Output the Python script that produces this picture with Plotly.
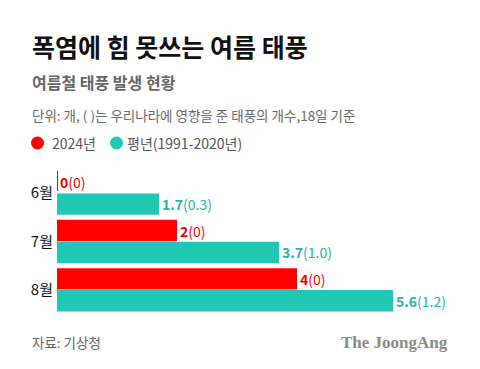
import plotly.graph_objects as go

months = ["6월", "7월", "8월"]
vals_2024 = [0, 2, 4]
affect_2024 = [0, 0, 0]
vals_normal = [1.7, 3.7, 5.6]
affect_normal = [0.3, 1.0, 1.2]

RED = "#ff0000"
TEAL = "#20c8b4"
TEAL_TXT = "#27b5a4"
FONT = "Noto Sans CJK KR"

W, H = 480, 369
L, R, T, B = 57, 3, 169, 55
PW, PH = W - L - R, H - T - B


def px(x):
    return (x - L) / PW


def py(y):
    return (H - B - y) / PH


def fmt(v):
    return f"{v:g}" if float(v).is_integer() else f"{v:.1f}"


txt_2024 = [f"<b>{fmt(v)}</b>({fmt(a)})" for v, a in zip(vals_2024, affect_2024)]
txt_normal = [f"<b>{v:.1f}</b>({a:.1f})" for v, a in zip(vals_normal, affect_normal)]

fig = go.Figure()
fig.add_trace(go.Bar(
    y=months, x=vals_2024, orientation="h", name="2024년",
    marker=dict(color=RED, line=dict(width=0)),
    text=txt_2024, textposition="outside", cliponaxis=False,
    constraintext="none",
    textfont=dict(family=FONT, size=14, color="#f00000"),
    hoverinfo="skip",
))
fig.add_trace(go.Bar(
    y=months, x=vals_normal, orientation="h", name="평년(1991-2020년)",
    marker=dict(color=TEAL, line=dict(width=0)),
    text=txt_normal, textposition="outside", cliponaxis=False,
    constraintext="none",
    textfont=dict(family=FONT, size=14, color=TEAL_TXT),
    hoverinfo="skip",
))

# red 0 bar marker line (visible sliver)
fig.add_shape(type="line", xref="paper", yref="paper",
              x0=px(57.5), x1=px(57.5), y0=py(171), y1=py(191),
              line=dict(color=RED, width=1))

annotations = [
    dict(text="<b>폭염에 힘 못쓰는 여름 태풍</b>", x=px(30), y=py(46), font=dict(size=25, color="#111111", family=FONT)),
    dict(text="<b>여름철 태풍 발생 현황</b>", x=px(30), y=py(82), font=dict(size=16, color="#666666", family=FONT)),
    dict(text="단위: 개, ( )는 우리나라에 영향을 준 태풍의 개수,18일 기준", x=px(30), y=py(115), font=dict(size=13.5, color="#6a6a6a", family=FONT)),
    dict(text="2024년", x=px(50), y=py(143), font=dict(size=14, color="#555555", family=FONT)),
    dict(text="평년(1991-2020년)", x=px(125), y=py(143), font=dict(size=14, color="#555555", family=FONT)),
    dict(text="자료: 기상청", x=px(30), y=py(342), font=dict(size=13.5, color="#666666", family=FONT)),
]
for a in annotations:
    a.update(xref="paper", yref="paper", xanchor="left", yanchor="middle", showarrow=False)
fig.add_annotation(text="<b>The JoongAng</b>", xref="paper", yref="paper",
                   x=px(450), y=py(342), xanchor="right", yanchor="middle", showarrow=False,
                   font=dict(size=17, color="#8a8a8a", family="Liberation Serif"))
for a in annotations:
    fig.add_annotation(**a)

# legend dots
for cx, col in [(37.5, RED), (116.5, TEAL)]:
    r = 6.5
    fig.add_shape(type="circle", xref="paper", yref="paper",
                  x0=px(cx - r), x1=px(cx + r), y0=py(143 + r), y1=py(143 - r),
                  fillcolor=col, line=dict(width=0))

fig.update_layout(
    width=W, height=H,
    margin=dict(l=L, r=R, t=T, b=B, autoexpand=False),
    paper_bgcolor="white", plot_bgcolor="white",
    barmode="group", bargap=0.093, bargroupgap=0.02,
    showlegend=False,
    font=dict(family=FONT),
    xaxis=dict(range=[0, 7], visible=False, fixedrange=True),
    yaxis=dict(autorange="reversed", showgrid=False, zeroline=False, showline=False,
               ticks="", ticklabelstandoff=3, automargin=False, fixedrange=True,
               tickfont=dict(size=15, color="#111111", family=FONT)),
)

fig.write_html("out.html", config={"displayModeBar": False},
               post_script="document.body.style.margin='0';")
